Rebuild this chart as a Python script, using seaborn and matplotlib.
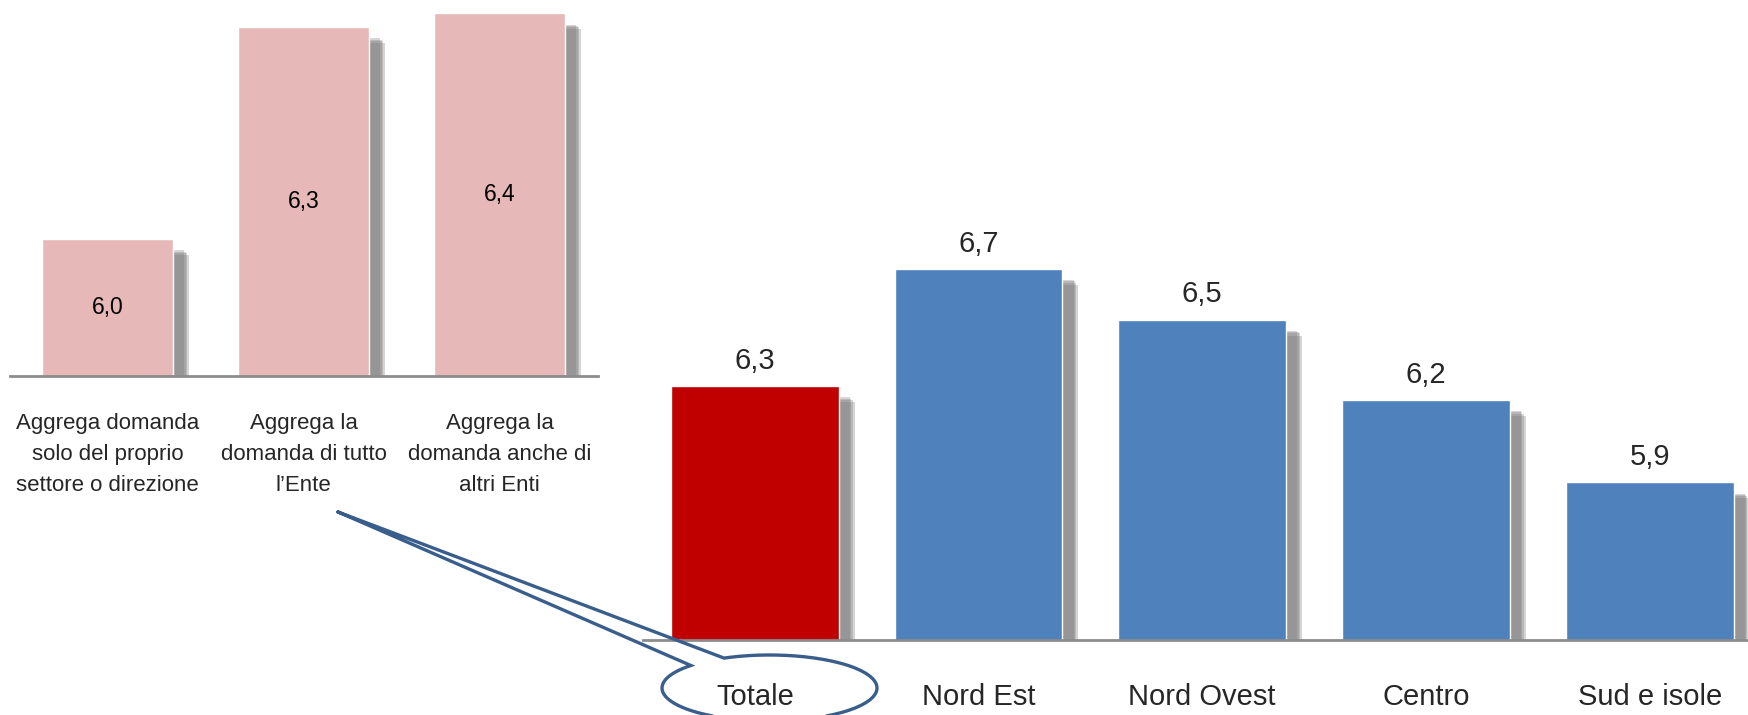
import numpy as np
import matplotlib
matplotlib.use("Agg")
import matplotlib.pyplot as plt
import matplotlib.patheffects as pe
from matplotlib.lines import Line2D
import seaborn as sns

# Dati: punteggio medio per modalità di aggregazione della domanda
modalita = ["Aggrega domanda\nsolo del proprio\nsettore o direzione",
            "Aggrega la\ndomanda di tutto\nl\u2019Ente",
            "Aggrega la\ndomanda anche di\naltri Enti"]
punteggio_modalita = [6.03, 6.34, 6.36]

# Dati: punteggio medio per area geografica
aree = ["Totale", "Nord Est", "Nord Ovest", "Centro", "Sud e isole"]
punteggio_aree = [6.26, 6.70, 6.51, 6.21, 5.90]

colori_modalita = ["#E6B9B8", "#E6B9B8", "#E6B9B8"]
colori_aree = ["#C00000", "#4F81BD", "#4F81BD", "#4F81BD", "#4F81BD"]

W, H = 1748, 715

sns.set_style("white")
plt.rcParams["font.family"] = ["Liberation Sans", "DejaVu Sans"]


def fmt(v):
    return f"{v:.1f}".replace(".", ",")


def ombra(ax):
    # ombra sfumata: alcuni strati semitrasparenti leggermente sfalsati
    effetti = [pe.SimplePatchShadow(offset=(d, -d), shadow_rgbFace="#777777", alpha=0.3)
               for d in (8, 9, 10, 11.5)]
    for p in ax.patches:
        p.set_path_effects(effetti + [pe.Normal()])


def sistema_assi(ax):
    for s in ["top", "left", "right"]:
        ax.spines[s].set_visible(False)
    ax.spines["bottom"].set_color("#8c8c8c")
    ax.spines["bottom"].set_linewidth(2)
    ax.set_yticks([])
    ax.set_xlabel("")
    ax.set_ylabel("")


fig = plt.figure(figsize=(W / 100, H / 100), dpi=100)

# Grafico di sinistra
ax1 = fig.add_axes([9.5 / W, 1 - 376 / H, 588 / W, 376 / H])
sns.barplot(x=modalita, y=punteggio_modalita, hue=modalita, palette=colori_modalita,
            legend=False, width=0.67, saturation=1, ax=ax1)
ax1.set_ylim(5.83, 5.83 + 376 / 684)
ax1.set_xlim(-0.5, 2.5)
sistema_assi(ax1)
ombra(ax1)
ax1.tick_params(axis="x", length=0, pad=27, labelsize=16)
for lab in ax1.get_xticklabels():
    lab.set_linespacing(1.6)
base1 = ax1.get_ylim()[0]
for p in ax1.patches:
    v = p.get_height()
    ax1.text(p.get_x() + p.get_width() / 2, (base1 + v) / 2, fmt(v),
             ha="center", va="center", fontsize=16.5, color="black")

# Grafico di destra
ax2 = fig.add_axes([643 / W, 1 - 640 / H, 1118.5 / W, 640 / H])
sns.barplot(x=aree, y=punteggio_aree, hue=aree, palette=colori_aree,
            legend=False, width=0.75, saturation=1, ax=ax2)
ax2.set_ylim(5.31, 5.31 + 640 / 267)
ax2.set_xlim(-0.5, 4.5)
sistema_assi(ax2)
ombra(ax2)
ax2.tick_params(axis="x", length=0, pad=31, labelsize=21)
for c in ax2.containers:
    ax2.bar_label(c, labels=[fmt(v) for v in c.datavalues], padding=8, fontsize=21)

# Fumetto che collega "l'Ente" a "Totale"
cx, cy, a, b = 769.5, 688, 107.5, 33
t = np.radians(np.linspace(137, 360 + 115, 200))
ex = cx + a * np.cos(t)
ey = cy - b * np.sin(t)
tip = (338, 512)
xs = np.concatenate([[tip[0]], ex, [tip[0]]])
ys = np.concatenate([[tip[1]], ey, [tip[1]]])
fig.add_artist(Line2D(xs / W, 1 - ys / H, transform=fig.transFigure,
                      color="#3A5E8C", lw=2.4, solid_joinstyle="miter", zorder=20))

fig.savefig("out.png", dpi=100)
